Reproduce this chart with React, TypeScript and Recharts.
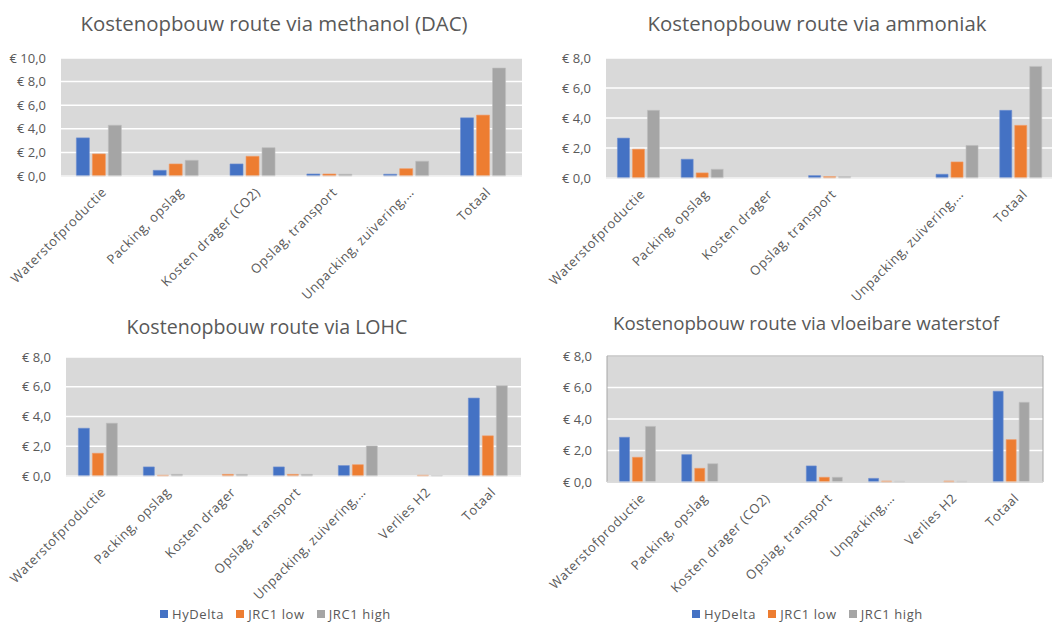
import React from 'react';
import { BarChart, Bar, XAxis, YAxis, CartesianGrid, ReferenceArea } from 'recharts';

const SERIES = ['HyDelta', 'JRC1 low', 'JRC1 high'];
const COLORS = ['#4472C4', '#ED7D31', '#A5A5A5'];

const methanolCategories = ['Waterstofproductie', 'Packing, opslag', 'Kosten drager (CO2)', 'Opslag, transport', 'Unpacking, zuivering,…', 'Totaal'];
const methanolHyDelta = [3.23, 0.48, 1.02, 0.17, 0.15, 4.93];
const methanolJrcLow = [1.87, 1.02, 1.67, 0.17, 0.62, 5.16];
const methanolJrcHigh = [4.3, 1.33, 2.4, 0.15, 1.25, 9.15];

const ammoniakCategories = ['Waterstofproductie', 'Packing, opslag', 'Kosten drager', 'Opslag, transport', '', 'Unpacking, zuivering,…', 'Totaal'];
const ammoniakHyDelta = [2.66, 1.25, 0, 0.16, 0, 0.25, 4.51];
const ammoniakJrcLow = [1.92, 0.34, 0, 0.09, 0, 1.07, 3.51];
const ammoniakJrcHigh = [4.51, 0.58, 0, 0.09, 0, 2.17, 7.44];

const lohcCategories = ['Waterstofproductie', 'Packing, opslag', 'Kosten drager', 'Opslag, transport', 'Unpacking, zuivering,…', 'Verlies H2', 'Totaal'];
const lohcHyDelta = [3.21, 0.61, 0, 0.61, 0.7, 0, 5.24];
const lohcJrcLow = [1.53, 0.05, 0.11, 0.11, 0.76, 0.05, 2.7];
const lohcJrcHigh = [3.55, 0.11, 0.11, 0.11, 2.02, 0.03, 6.07];

const lh2Categories = ['Waterstofproductie', 'Packing, opslag', 'Kosten drager (CO2)', 'Opslag, transport', 'Unpacking,…', 'Verlies H2', 'Totaal'];
const lh2HyDelta = [2.84, 1.74, 0, 1.02, 0.23, 0, 5.76];
const lh2JrcLow = [1.57, 0.87, 0, 0.3, 0.06, 0.06, 2.69];
const lh2JrcHigh = [3.53, 1.16, 0, 0.3, 0.04, 0.04, 5.06];

const FONT = '"Open Sans", "DejaVu Sans", sans-serif';
const TEXT = '#595959';

const euro = (v: number) => `€ ${v.toFixed(1).replace('.', ',')}`;

const RotatedTick = ({ x, y, payload }: any) => (
  <g transform={`translate(${x + 8},${y + 9})`}>
    <text
      x={0}
      y={0}
      textAnchor="end"
      transform="rotate(-45)"
      fill={TEXT}
      fontSize={13}
      letterSpacing={0.6}
      fontFamily={FONT}
    >
      {payload.value}
    </text>
  </g>
);

interface CostChartProps {
  title: string;
  titleX: number;
  titleY: number;
  titleSize: number;
  categories: string[];
  values: number[][];
  left: number;
  top: number;
  width: number;
  height: number;
  plotTop: number;
  plotRight: number;
  yWidth: number;
  xHeight: number;
  yMax: number;
  gap: string;
  border?: boolean;
}

const CostChart: React.FC<CostChartProps> = (p) => {
  const data = p.categories.map((name, i) => ({
    name,
    hd: p.values[0][i],
    lo: p.values[1][i],
    hi: p.values[2][i],
  }));
  const ticks = [];
  for (let t = 0; t <= p.yMax; t += 2) ticks.push(t);
  return (
    <>
      <div
        style={{
          position: 'absolute',
          left: p.titleX - 260,
          width: 520,
          top: p.titleY - 14,
          textAlign: 'center',
          fontFamily: FONT,
          fontSize: p.titleSize,
          lineHeight: '28px',
          color: TEXT,
        }}
      >
        {p.title}
      </div>
      <div style={{ position: 'absolute', left: p.left, top: p.top }}>
        <BarChart
          width={p.width}
          height={p.height}
          data={data}
          margin={{ top: p.plotTop, right: p.plotRight, bottom: 0, left: 0 }}
          barCategoryGap={p.gap}
          barGap={3}
        >
          <CartesianGrid vertical={false} stroke="#FFFFFF" strokeWidth={1.5} fill="#D9D9D9" />
          <XAxis
            dataKey="name"
            interval={0}
            tickLine={false}
            axisLine={{ stroke: '#E6E6E6' }}
            height={p.xHeight}
            tick={<RotatedTick />}
          />
          <YAxis
            width={p.yWidth}
            domain={[0, p.yMax]}
            ticks={ticks}
            tickFormatter={euro}
            axisLine={false}
            tickLine={false}
            tick={{ fill: TEXT, fontSize: 13, fontFamily: FONT, dx: -7 }}
          />
          {p.border && (
            <ReferenceArea y1={0} y2={p.yMax} fill="none" stroke="#A6A6A6" strokeWidth={1} />
          )}
          <Bar dataKey="hd" name={SERIES[0]} fill={COLORS[0]} stroke="#6E8FD0" strokeWidth={0.6} isAnimationActive={false} />
          <Bar dataKey="lo" name={SERIES[1]} fill={COLORS[1]} stroke="#F29A66" strokeWidth={0.6} isAnimationActive={false} />
          <Bar dataKey="hi" name={SERIES[2]} fill={COLORS[2]} stroke="#BDBDBD" strokeWidth={0.6} isAnimationActive={false} />
        </BarChart>
      </div>
    </>
  );
};

const LegendRow = ({ left, top }: { left: number; top: number }) => (
  <div
    style={{
      position: 'absolute',
      left,
      top,
      display: 'flex',
      alignItems: 'center',
      fontFamily: FONT,
      fontSize: 13,
      color: TEXT,
      letterSpacing: 0.6,
    }}
  >
    {SERIES.map((s, i) => (
      <div key={s} style={{ display: 'flex', alignItems: 'center', marginRight: 12 }}>
        <span style={{ width: 8, height: 8, background: COLORS[i], marginRight: 4, display: 'inline-block' }} />
        {s}
      </div>
    ))}
  </div>
);

export default function App() {
  return (
    <div style={{ position: 'absolute', left: 0, top: 0, width: 1062, height: 623, background: '#fff', overflow: 'hidden' }}>
      <CostChart
        title="Kostenopbouw route via methanol (DAC)"
        titleX={274}
        titleY={23}
        titleSize={20.4}
        categories={methanolCategories}
        values={[methanolHyDelta, methanolJrcLow, methanolJrcHigh]}
        left={0}
        top={0}
        width={530}
        height={300}
        plotTop={58}
        plotRight={8}
        yWidth={61}
        xHeight={124}
        yMax={10}
        gap="20%"
      />
      <CostChart
        title="Kostenopbouw route via ammoniak"
        titleX={817}
        titleY={23}
        titleSize={20.4}
        categories={ammoniakCategories}
        values={[ammoniakHyDelta, ammoniakJrcLow, ammoniakJrcHigh]}
        left={530}
        top={0}
        width={532}
        height={300}
        plotTop={58}
        plotRight={10}
        yWidth={76}
        xHeight={122}
        yMax={8}
        gap="18%"
      />
      <CostChart
        title="Kostenopbouw route via LOHC"
        titleX={267}
        titleY={327}
        titleSize={19.6}
        categories={lohcCategories}
        values={[lohcHyDelta, lohcJrcLow, lohcJrcHigh]}
        left={0}
        top={300}
        width={530}
        height={300}
        plotTop={57}
        plotRight={9}
        yWidth={66}
        xHeight={124}
        yMax={8}
        gap="19%"
      />
      <CostChart
        title="Kostenopbouw route via vloeibare waterstof"
        titleX={806}
        titleY={323}
        titleSize={18.7}
        categories={lh2Categories}
        values={[lh2HyDelta, lh2JrcLow, lh2JrcHigh]}
        left={530}
        top={300}
        width={532}
        height={300}
        plotTop={56}
        plotRight={19}
        yWidth={77}
        xHeight={118}
        yMax={8}
        gap="20%"
        border
      />
      <LegendRow left={160} top={605} />
      <LegendRow left={692} top={605} />
    </div>
  );
}
